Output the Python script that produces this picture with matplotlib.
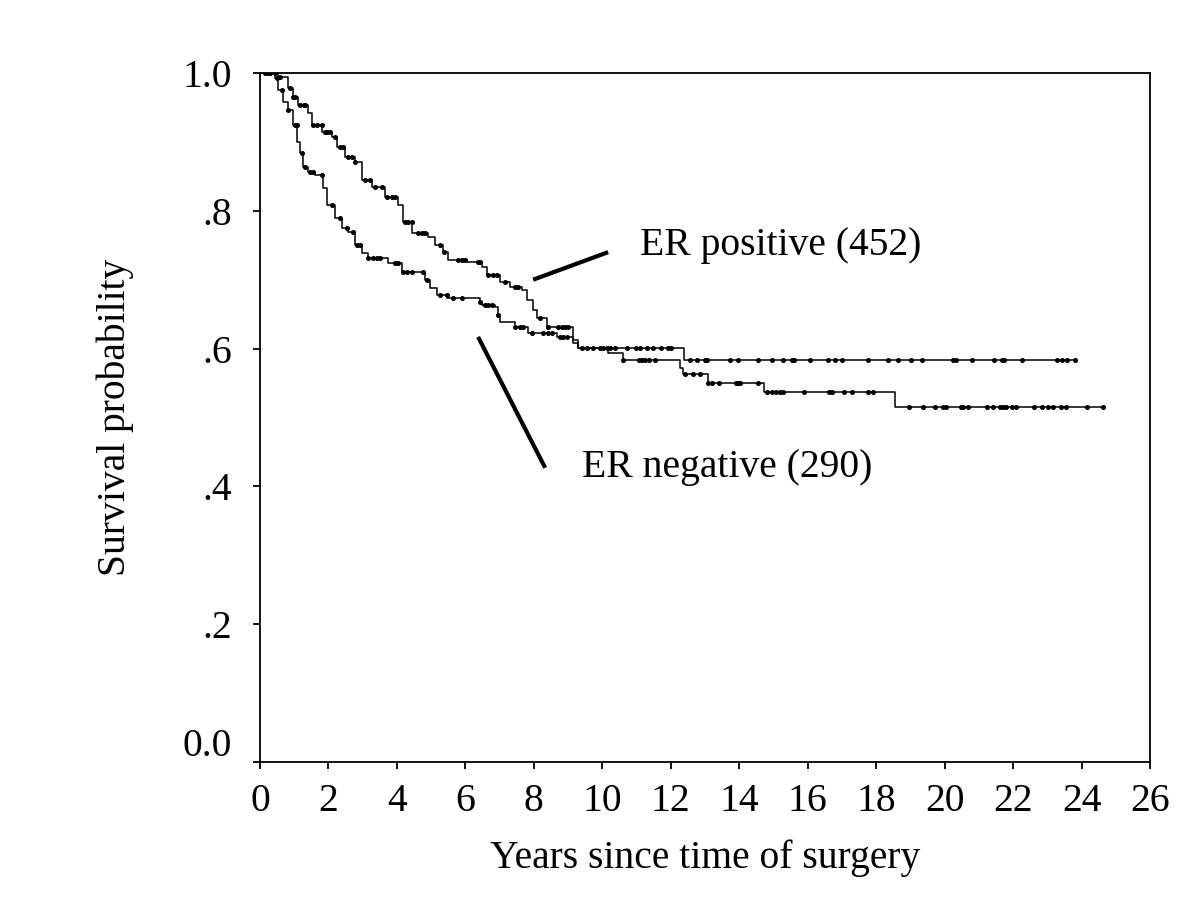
import numpy as np
import matplotlib
matplotlib.use("Agg")
import matplotlib.pyplot as plt
import matplotlib.transforms as mtransforms

plt.rcParams['font.family'] = ['Liberation Serif', 'DejaVu Serif']

# Kaplan-Meier step points (time in years, survival)
pos_times = [0, 0.53, 0.82, 0.96, 1.11, 1.40, 1.52, 1.81, 2.10, 2.25, 2.48, 2.78,
             2.98, 3.27, 3.65, 4.03, 4.18, 4.44, 4.91, 5.11, 5.35, 5.49, 6.05,
             6.49, 6.63, 7.01, 7.30, 7.65, 7.80, 7.98, 8.09, 8.38, 9.14, 9.29, 12.39]
pos_surv = [1.0, 0.994, 0.978, 0.965, 0.954, 0.942, 0.925, 0.914, 0.907, 0.893,
            0.878, 0.871, 0.845, 0.835, 0.820, 0.809, 0.784, 0.768, 0.762, 0.750,
            0.740, 0.729, 0.726, 0.718, 0.707, 0.697, 0.689, 0.685, 0.671, 0.656,
            0.644, 0.631, 0.612, 0.601, 0.583]
pos_end = 23.81

neg_times = [0, 0.44, 0.53, 0.67, 0.82, 0.96, 1.08, 1.17, 1.26, 1.40, 1.61, 1.84,
             1.96, 2.19, 2.40, 2.57, 2.78, 2.98, 3.16, 3.74, 4.15, 4.82, 4.97,
             5.17, 5.46, 6.43, 6.49, 6.87, 6.95, 7.01, 7.45, 7.83, 8.68, 9.14,
             9.29, 10.17, 10.60, 12.27, 12.36, 13.09, 14.72, 18.55]
neg_surv = [1.0, 0.993, 0.975, 0.958, 0.946, 0.925, 0.900, 0.884, 0.864, 0.856,
            0.852, 0.833, 0.808, 0.790, 0.775, 0.769, 0.750, 0.739, 0.731, 0.724,
            0.711, 0.700, 0.688, 0.678, 0.673, 0.668, 0.663, 0.660, 0.649, 0.639,
            0.631, 0.623, 0.617, 0.608, 0.601, 0.594, 0.583, 0.572, 0.563, 0.550,
            0.537, 0.515]
neg_end = 24.64

# censoring times (tick marks on the curves)
pos_censor = [0.15, 0.29, 0.44, 0.58, 0.88, 0.97, 1.02, 1.17, 1.27, 1.31, 1.56, 1.66,
              1.80, 1.90, 1.95, 2.05, 2.19, 2.34, 2.43, 2.58, 2.68, 2.78, 3.07, 3.21,
              3.36, 3.55, 3.70, 3.85, 3.94, 4.24, 4.33, 4.43, 4.62, 4.72, 4.82, 5.26,
              5.36, 5.79, 5.89, 5.99, 6.38, 6.43, 6.67, 6.82, 6.91, 7.16, 7.45, 7.55,
              8.18, 8.42, 8.71, 8.81, 8.91, 9.01, 9.40, 9.54, 9.74, 9.93, 10.03,
              10.13, 10.22, 10.37, 10.71, 10.98, 11.10, 11.30, 11.47, 11.71, 11.93,
              12.02, 12.56, 12.76, 13.0, 13.07, 13.73, 13.95, 14.56, 14.95, 15.27,
              15.53, 15.60, 16.07, 16.58, 16.80, 17.01, 17.77, 18.36, 18.63, 19.01,
              19.33, 20.24, 20.33, 20.81, 21.45, 21.67, 21.74, 22.27, 23.29, 23.42,
              23.57, 23.81]
neg_censor = [0.24, 0.49, 0.63, 0.83, 1.02, 1.07, 1.22, 1.31, 1.46, 1.56, 1.80, 2.09,
              2.34, 2.53, 2.73, 2.82, 2.92, 3.16, 3.31, 3.41, 3.51, 3.94, 4.04, 4.19,
              4.28, 4.43, 4.77, 4.87, 5.26, 5.45, 5.65, 5.89, 6.43, 6.57, 6.67, 6.77,
              6.96, 7.45, 7.60, 7.69, 7.94, 8.28, 8.42, 8.52, 8.76, 8.86, 8.96,
              10.61, 11.08, 11.15, 11.25, 11.37, 11.54, 12.42, 12.66, 12.85, 13.10,
              13.19, 13.42, 13.91, 13.97, 14.02, 14.56, 14.80, 14.95, 15.07, 15.19,
              15.29, 15.89, 16.63, 16.70, 17.06, 17.30, 17.77, 17.92, 18.97, 19.38,
              19.72, 19.96, 20.04, 20.48, 20.55, 20.69, 21.23, 21.42, 21.62, 21.72,
              21.80, 21.96, 22.09, 22.60, 22.84, 23.01, 23.18, 23.40, 23.55, 24.15,
              24.64]

x_ticks = list(range(0, 27, 2))
y_ticks = [0.0, 0.2, 0.4, 0.6, 0.8, 1.0]
y_labels = ['0.0', '.2', '.4', '.6', '.8', '1.0']


def km_line(ax, times, surv, end, censor):
    t = np.array(times + [end])
    s = np.array(surv + [surv[-1]])
    ax.step(t, s, where='post', color='black', lw=1.1)
    c = np.array(censor)
    idx = np.searchsorted(t, c, side='right') - 1
    ax.plot(c, s[idx], ls='none', marker='o', ms=2.6, color='black')


fig = plt.figure(figsize=(12, 9), dpi=100)
ax = fig.add_axes([0.2167, 0.1533, 0.7416, 0.7656])

km_line(ax, pos_times, pos_surv, pos_end, pos_censor)
km_line(ax, neg_times, neg_surv, neg_end, neg_censor)

# pointer lines and labels
ax.plot([7.98, 10.17], [0.700, 0.740], color='black', lw=3, solid_capstyle='butt')
ax.plot([6.37, 8.33], [0.617, 0.427], color='black', lw=3, solid_capstyle='butt')
ax.text(11.1, 0.750, 'ER positive (452)', fontsize=28.5, va='center', ha='left')
ax.text(9.4, 0.427, 'ER negative (290)', fontsize=28.5, va='center', ha='left')

ax.set_xlim(0, 26)
ax.set_ylim(0, 1)
ax.set_xticks(x_ticks)
ax.set_yticks(y_ticks)
ax.set_yticklabels(y_labels)
ax.tick_params(axis='both', labelsize=28.5, direction='out', width=1.3, length=5)
ax.tick_params(axis='y', pad=15)
ax.tick_params(axis='x', pad=10)
for sp in ax.spines.values():
    sp.set_linewidth(1.3)

# the 0.0 label sits a little above its tick in the original
lbl0 = ax.get_yticklabels()[0]
lbl0.set_transform(lbl0.get_transform() +
                   mtransforms.ScaledTranslation(0, 0.2, fig.dpi_scale_trans))

ax.set_xlabel('Years since time of surgery', fontsize=28.5, labelpad=14)
ax.set_ylabel('Survival probability', fontsize=28.5, labelpad=35)

fig.savefig('out.png', dpi=100)
